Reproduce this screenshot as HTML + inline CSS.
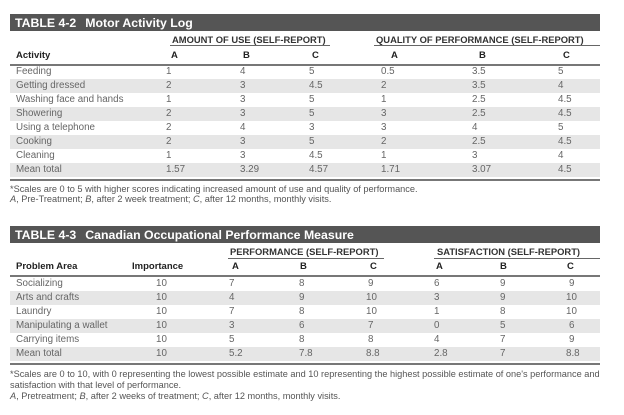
<!DOCTYPE html>
<html><head><style>
body{margin:0;width:624px;height:415px;background:#fff;font-family:"Liberation Sans",Arial,sans-serif;position:relative;overflow:hidden}
div{position:absolute;white-space:nowrap}
.bar{left:10px;width:590px;height:17px;background:#555;color:#fff;font-weight:bold;font-size:12.3px;line-height:18px}
.bar span{margin-left:5px}
.bar b{margin-left:9px;font-weight:bold}
.gh{font-size:9.4px;font-weight:bold;color:#333;line-height:10px}
.ul{height:1px;background:#666}
.rule{left:10px;width:590px;height:2px;background:#777}
.ch{font-size:9.5px;font-weight:bold;color:#222;line-height:12px}
.sh{left:10px;width:590px;height:14px;background:#e6e6e6}
.t{font-size:9.8px;color:#666;line-height:12px}
.fn{font-size:9.2px;color:#555;line-height:10px}
</style></head><body>
<!-- TABLE 4-2 -->
<div class="bar" style="top:14px"><span>TABLE 4-2</span><b>Motor Activity Log</b></div>
<div class="gh" style="top:35px;left:172px">AMOUNT OF USE (SELF-REPORT)</div>
<div class="ul" style="top:45px;left:170px;width:160px"></div>
<div class="gh" style="top:35px;left:376px">QUALITY OF PERFORMANCE (SELF-REPORT)</div>
<div class="ul" style="top:45px;left:374px;width:226px"></div>
<div class="ch" style="top:50px;left:16px">Activity</div>
<div class="ch" style="top:50px;left:171px">A</div>
<div class="ch" style="top:50px;left:243px">B</div>
<div class="ch" style="top:50px;left:312px">C</div>
<div class="ch" style="top:50px;left:391px">A</div>
<div class="ch" style="top:50px;left:479px">B</div>
<div class="ch" style="top:50px;left:563px">C</div>
<div class="rule" style="top:64px"></div>
<div class="sh" style="top:79px"></div>
<div class="sh" style="top:107px"></div>
<div class="sh" style="top:135px"></div>
<div class="sh" style="top:163px"></div>
<div class="rule" style="top:179px"></div>
<div style="top:66px;left:0">
<div class="t" style="top:0;left:16px">Feeding</div><div class="t" style="top:0;left:166px">1</div><div class="t" style="top:0;left:240px">4</div><div class="t" style="top:0;left:309px">5</div><div class="t" style="top:0;left:381px">0.5</div><div class="t" style="top:0;left:472px">3.5</div><div class="t" style="top:0;left:558px">5</div>
<div class="t" style="top:14px;left:16px">Getting dressed</div><div class="t" style="top:14px;left:166px">2</div><div class="t" style="top:14px;left:240px">3</div><div class="t" style="top:14px;left:309px">4.5</div><div class="t" style="top:14px;left:381px">2</div><div class="t" style="top:14px;left:472px">3.5</div><div class="t" style="top:14px;left:558px">4</div>
<div class="t" style="top:28px;left:16px">Washing face and hands</div><div class="t" style="top:28px;left:166px">1</div><div class="t" style="top:28px;left:240px">3</div><div class="t" style="top:28px;left:309px">5</div><div class="t" style="top:28px;left:381px">1</div><div class="t" style="top:28px;left:472px">2.5</div><div class="t" style="top:28px;left:558px">4.5</div>
<div class="t" style="top:42px;left:16px">Showering</div><div class="t" style="top:42px;left:166px">2</div><div class="t" style="top:42px;left:240px">3</div><div class="t" style="top:42px;left:309px">5</div><div class="t" style="top:42px;left:381px">3</div><div class="t" style="top:42px;left:472px">2.5</div><div class="t" style="top:42px;left:558px">4.5</div>
<div class="t" style="top:56px;left:16px">Using a telephone</div><div class="t" style="top:56px;left:166px">2</div><div class="t" style="top:56px;left:240px">4</div><div class="t" style="top:56px;left:309px">3</div><div class="t" style="top:56px;left:381px">3</div><div class="t" style="top:56px;left:472px">4</div><div class="t" style="top:56px;left:558px">5</div>
<div class="t" style="top:70px;left:16px">Cooking</div><div class="t" style="top:70px;left:166px">2</div><div class="t" style="top:70px;left:240px">3</div><div class="t" style="top:70px;left:309px">5</div><div class="t" style="top:70px;left:381px">2</div><div class="t" style="top:70px;left:472px">2.5</div><div class="t" style="top:70px;left:558px">4.5</div>
<div class="t" style="top:84px;left:16px">Cleaning</div><div class="t" style="top:84px;left:166px">1</div><div class="t" style="top:84px;left:240px">3</div><div class="t" style="top:84px;left:309px">4.5</div><div class="t" style="top:84px;left:381px">1</div><div class="t" style="top:84px;left:472px">3</div><div class="t" style="top:84px;left:558px">4</div>
<div class="t" style="top:98px;left:16px">Mean total</div><div class="t" style="top:98px;left:166px">1.57</div><div class="t" style="top:98px;left:240px">3.29</div><div class="t" style="top:98px;left:309px">4.57</div><div class="t" style="top:98px;left:381px">1.71</div><div class="t" style="top:98px;left:472px">3.07</div><div class="t" style="top:98px;left:558px">4.5</div>
</div>
<div class="fn" style="top:184px;left:10px">*Scales are 0 to 5 with higher scores indicating increased amount of use and quality of performance.</div>
<div class="fn" style="top:194px;left:10px"><i>A</i>, Pre-Treatment; <i>B</i>, after 2 week treatment; <i>C</i>, after 12 months, monthly visits.</div>

<!-- TABLE 4-3 -->
<div class="bar" style="top:226px"><span>TABLE 4-3</span><b>Canadian Occupational Performance Measure</b></div>
<div class="gh" style="top:247px;left:230px">PERFORMANCE (SELF-REPORT)</div>
<div class="ul" style="top:258px;left:228px;width:156px"></div>
<div class="gh" style="top:247px;left:437px">SATISFACTION (SELF-REPORT)</div>
<div class="ul" style="top:258px;left:434px;width:166px"></div>
<div class="ch" style="top:261px;left:16px">Problem Area</div>
<div class="ch" style="top:261px;left:132px">Importance</div>
<div class="ch" style="top:261px;left:232px">A</div>
<div class="ch" style="top:261px;left:300px">B</div>
<div class="ch" style="top:261px;left:370px">C</div>
<div class="ch" style="top:261px;left:436px">A</div>
<div class="ch" style="top:261px;left:500px">B</div>
<div class="ch" style="top:261px;left:567px">C</div>
<div class="rule" style="top:275px"></div>
<div class="sh" style="top:291px"></div>
<div class="sh" style="top:319px"></div>
<div class="sh" style="top:347px"></div>
<div class="rule" style="top:363px"></div>
<div style="top:278px;left:0">
<div class="t" style="top:0;left:16px">Socializing</div><div class="t" style="top:0;left:156px">10</div><div class="t" style="top:0;left:229px">7</div><div class="t" style="top:0;left:299px">8</div><div class="t" style="top:0;left:368px">9</div><div class="t" style="top:0;left:434px">6</div><div class="t" style="top:0;left:500px">9</div><div class="t" style="top:0;left:569px">9</div>
<div class="t" style="top:14px;left:16px">Arts and crafts</div><div class="t" style="top:14px;left:156px">10</div><div class="t" style="top:14px;left:229px">4</div><div class="t" style="top:14px;left:299px">9</div><div class="t" style="top:14px;left:366px">10</div><div class="t" style="top:14px;left:434px">3</div><div class="t" style="top:14px;left:500px">9</div><div class="t" style="top:14px;left:566px">10</div>
<div class="t" style="top:28px;left:16px">Laundry</div><div class="t" style="top:28px;left:156px">10</div><div class="t" style="top:28px;left:229px">7</div><div class="t" style="top:28px;left:299px">8</div><div class="t" style="top:28px;left:366px">10</div><div class="t" style="top:28px;left:434px">1</div><div class="t" style="top:28px;left:500px">8</div><div class="t" style="top:28px;left:566px">10</div>
<div class="t" style="top:42px;left:16px">Manipulating a wallet</div><div class="t" style="top:42px;left:156px">10</div><div class="t" style="top:42px;left:229px">3</div><div class="t" style="top:42px;left:299px">6</div><div class="t" style="top:42px;left:368px">7</div><div class="t" style="top:42px;left:434px">0</div><div class="t" style="top:42px;left:500px">5</div><div class="t" style="top:42px;left:569px">6</div>
<div class="t" style="top:56px;left:16px">Carrying items</div><div class="t" style="top:56px;left:156px">10</div><div class="t" style="top:56px;left:229px">5</div><div class="t" style="top:56px;left:299px">8</div><div class="t" style="top:56px;left:368px">8</div><div class="t" style="top:56px;left:434px">4</div><div class="t" style="top:56px;left:500px">7</div><div class="t" style="top:56px;left:569px">9</div>
<div class="t" style="top:70px;left:16px">Mean total</div><div class="t" style="top:70px;left:156px">10</div><div class="t" style="top:70px;left:229px">5.2</div><div class="t" style="top:70px;left:299px">7.8</div><div class="t" style="top:70px;left:366px">8.8</div><div class="t" style="top:70px;left:434px">2.8</div><div class="t" style="top:70px;left:500px">7</div><div class="t" style="top:70px;left:566px">8.8</div>
</div>
<div class="fn" style="top:369px;left:10px">*Scales are 0 to 10, with 0 representing the lowest possible estimate and 10 representing the highest possible estimate of one's performance and</div>
<div class="fn" style="top:380px;left:10px">satisfaction with that level of performance.</div>
<div class="fn" style="top:391px;left:10px"><i>A</i>, Pretreatment; <i>B</i>, after 2 weeks of treatment; <i>C</i>, after 12 months, monthly visits.</div>
</body></html>
